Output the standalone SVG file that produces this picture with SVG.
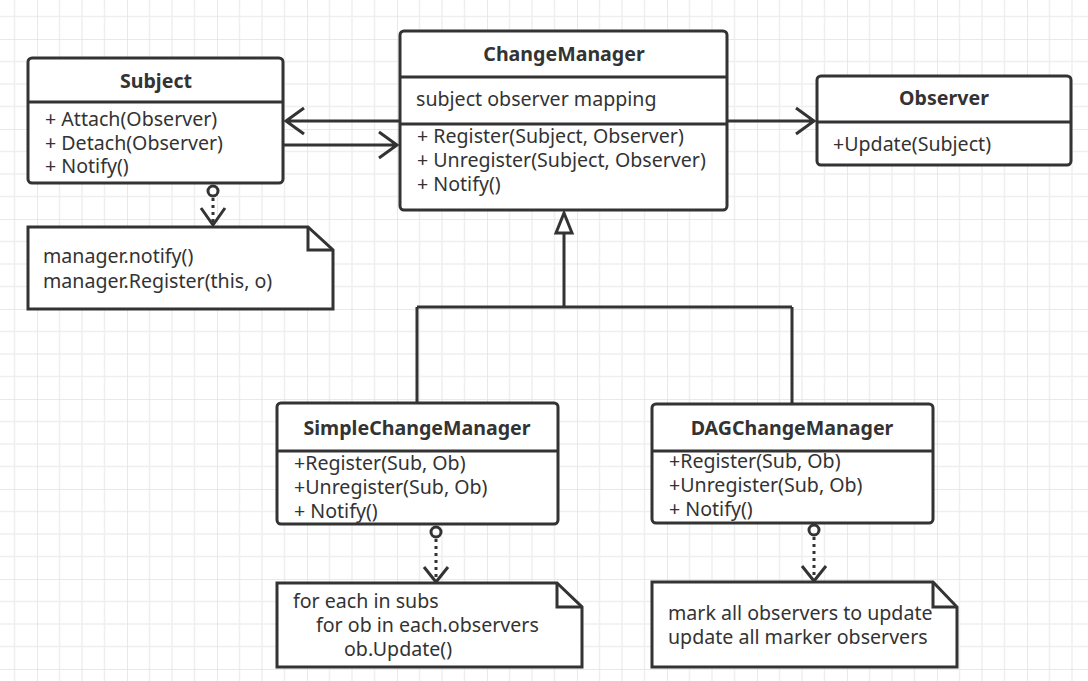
<svg xmlns="http://www.w3.org/2000/svg" width="1088" height="681" viewBox="0 0 1088 681">
<style>
.box{fill:#fff;stroke:#333;stroke-width:3}
.ln{fill:none;stroke:#333;stroke-width:3}
.dot{fill:none;stroke:#333;stroke-width:3;stroke-dasharray:3 4}
.t{font-family:"Noto Sans","Open Sans",sans-serif;font-size:19.6px;fill:#333}
.b{font-weight:bold;text-anchor:middle}
</style>
<defs>
<pattern id="grid" x="37" y="39" width="90" height="90" patternUnits="userSpaceOnUse">
<path d="M22.5 0V90M45 0V90M67.5 0V90M0 22.5H90M0 45H90M0 67.5H90" stroke="#efefef" stroke-width="1.5" fill="none"/>
<path d="M0 0V90M0 0H90" stroke="#e2e2e2" stroke-width="1.5" fill="none"/>
</pattern>
</defs>
<rect width="1088" height="681" fill="#fff"/>
<rect width="1088" height="681" fill="url(#grid)"/>

<g id="connectors">
<path class="ln" d="M400 121H286M304 108L286 121L304 134"/>
<path class="ln" d="M283 145H397M379 132L397 145L379 158"/>
<path class="ln" d="M727 121H814M796 108L814 121L796 134"/>
<path class="ln" d="M564 233V307M417 307H792M417 307V403M792 307V404"/>
<path class="ln" d="M564 213L572 233H556Z" fill="#fff"/>
<circle cx="213" cy="191" r="5" class="ln" fill="#fff"/>
<path class="dot" d="M213 198V224"/>
<path class="ln" d="M201 208L213 225L225 208"/>
<circle cx="436" cy="532" r="5" class="ln" fill="#fff"/>
<path class="dot" d="M436 539V580"/>
<path class="ln" d="M424 567L436 582L448 567"/>
<circle cx="814" cy="530" r="5" class="ln" fill="#fff"/>
<path class="dot" d="M814 537V579"/>
<path class="ln" d="M802 566L814 581L826 566"/>
</g>

<g id="subject">
<rect class="box" x="28" y="58" width="255" height="125" rx="4"/>
<path class="ln" d="M28 102H283"/>
<text class="t b" x="156" y="88">Subject</text>
<text class="t" x="45" y="126">+ Attach(Observer)</text>
<text class="t" x="45" y="150">+ Detach(Observer)</text>
<text class="t" x="45" y="173">+ Notify()</text>
</g>

<g id="changemanager">
<rect class="box" x="400" y="31" width="327" height="179" rx="4"/>
<path class="ln" d="M400 77H727M400 124H727"/>
<text class="t b" x="564" y="61">ChangeManager</text>
<text class="t" x="416" y="106">subject observer mapping</text>
<text class="t" x="417" y="143">+ Register(Subject, Observer)</text>
<text class="t" x="417" y="167">+ Unregister(Subject, Observer)</text>
<text class="t" x="417" y="191">+ Notify()</text>
</g>

<g id="observer">
<rect class="box" x="817" y="76" width="254" height="89" rx="4"/>
<path class="ln" d="M817 122H1071"/>
<text class="t b" x="944" y="105">Observer</text>
<text class="t" x="833" y="151">+Update(Subject)</text>
</g>

<g id="note-subject">
<path class="box" d="M28 227H308L333 250V309H28Z"/>
<path class="ln" d="M308 227V250H333"/>
<text class="t" x="43" y="263">manager.notify()</text>
<text class="t" x="43" y="288">manager.Register(this, o)</text>
</g>

<g id="simplechangemanager">
<rect class="box" x="277" y="403" width="281" height="121" rx="4"/>
<path class="ln" d="M277 451H558"/>
<text class="t b" x="417" y="435">SimpleChangeManager</text>
<text class="t" x="294" y="470">+Register(Sub, Ob)</text>
<text class="t" x="294" y="494">+Unregister(Sub, Ob)</text>
<text class="t" x="294" y="518">+ Notify()</text>
</g>

<g id="dagchangemanager">
<rect class="box" x="652" y="404" width="281" height="119" rx="4"/>
<path class="ln" d="M652 451H933"/>
<text class="t b" x="792" y="435">DAGChangeManager</text>
<text class="t" x="669" y="468">+Register(Sub, Ob)</text>
<text class="t" x="669" y="492">+Unregister(Sub, Ob)</text>
<text class="t" x="669" y="516">+ Notify()</text>
</g>

<g id="note-simple">
<path class="box" d="M277 583H557L582 607V667H277Z"/>
<path class="ln" d="M557 583V607H582"/>
<text class="t" x="293" y="608">for each in subs</text>
<text class="t" x="316" y="632">for ob in each.observers</text>
<text class="t" x="344" y="656">ob.Update()</text>
</g>

<g id="note-dag">
<path class="box" d="M652 582H933L957 607V667H652Z"/>
<path class="ln" d="M933 582V607H957"/>
<text class="t" x="668" y="620">mark all observers to update</text>
<text class="t" x="668" y="644">update all marker observers</text>
</g>
</svg>
